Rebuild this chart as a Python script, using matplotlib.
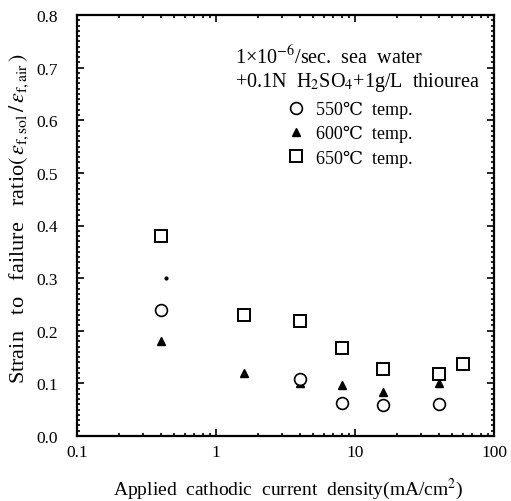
import matplotlib
matplotlib.use('Agg')
import matplotlib.pyplot as plt
from matplotlib.ticker import MultipleLocator, LogLocator, NullFormatter, FixedLocator, FixedFormatter

plt.rcParams['font.family'] = ['Liberation Serif', 'DejaVu Serif']
plt.rcParams['mathtext.fontset'] = 'stix'

# current density (mA/cm2) and strain-to-failure ratio per temperature
x_550 = [0.4, 4, 8, 16, 40]
y_550 = [0.24, 0.108, 0.062, 0.059, 0.061]
x_600 = [0.4, 1.6, 4, 8, 16, 40]
y_600 = [0.18, 0.12, 0.100, 0.097, 0.083, 0.100]
x_650 = [0.4, 1.6, 4, 8, 16, 40, 60]
y_650 = [0.38, 0.229, 0.219, 0.168, 0.128, 0.117, 0.137]
# stray speck in the scan
x_speck = [0.44]
y_speck = [0.30]

xticks = [0.1, 1, 10, 100]
xticklabels = ['0.1', '1', '10', '100']
yticks = [0.0, 0.1, 0.2, 0.3, 0.4, 0.5, 0.6, 0.7, 0.8]

fig = plt.figure(figsize=(5.11, 5.02), dpi=100)
ax = fig.add_axes([77/511, 65/502, 417/511, 421/502])

ax.plot(x_600, y_600, linestyle='none', marker='^', markersize=6,
        color='black', label='600℃  temp.')
ax.plot(x_550, y_550, linestyle='none', marker='o', markersize=8.5,
        markerfacecolor='white', markeredgecolor='black', markeredgewidth=1.2,
        label='550℃  temp.')
ax.plot(x_650, y_650, linestyle='none', marker='s', markersize=8,
        markerfacecolor='white', markeredgecolor='black', markeredgewidth=1.4,
        label='650℃  temp.')
ax.plot(x_speck, y_speck, linestyle='none', marker='o', markersize=2,
        color='black')

ax.set_xscale('log')
ax.set_xlim(0.1, 100)
ax.set_ylim(0, 0.8)
ax.xaxis.set_major_locator(FixedLocator(xticks))
ax.xaxis.set_major_formatter(FixedFormatter(xticklabels))
ax.xaxis.set_minor_locator(LogLocator(base=10, subs=range(2, 10)))
ax.xaxis.set_minor_formatter(NullFormatter())
ax.set_yticks(yticks)
ax.yaxis.set_major_formatter(plt.FuncFormatter(lambda v, p: f'{v:.1f}'))
ax.yaxis.set_minor_locator(MultipleLocator(0.01))

ax.tick_params(which='both', direction='in', top=True, right=True,
               labelsize=12.5, width=1.2)
ax.tick_params(axis='x', pad=6)
ax.tick_params(axis='y', pad=14)
ax.tick_params(which='major', length=5)
ax.tick_params(which='minor', length=2.5)
for s in ax.spines.values():
    s.set_linewidth(1.6)

ax.set_xlabel('Applied  cathodic  current  density(mA/cm$^2$)', fontsize=14)
ax.xaxis.set_label_coords(0.507, -0.095)
ax.set_ylabel(r'Strain   to   failure   ratio$(\,\varepsilon_{\rm f,sol}\,/\,\varepsilon_{\rm f,air}\,)$',
              fontsize=16)
ax.yaxis.set_label_coords(-0.11, 0.52)

ax.text(0.379, 0.903, '1×10$^{-6}$/sec.  sea  water', transform=ax.transAxes,
        fontsize=14.5, va='center', ha='left')
ax.text(0.379, 0.843, '+0.1N  H$_2$SO$_4$+1g/L  thiourea', transform=ax.transAxes,
        fontsize=14.5, va='center', ha='left')

h, l = ax.get_legend_handles_labels()
order = [1, 0, 2]
ax.legend([h[i] for i in order], [l[i] for i in order], loc='upper left',
          bbox_to_anchor=(0.47, 0.826), frameon=False, fontsize=13,
          handlelength=1.2, handletextpad=0.5, labelspacing=0.4,
          borderpad=0.2)

fig.savefig('out.png', dpi=100)
